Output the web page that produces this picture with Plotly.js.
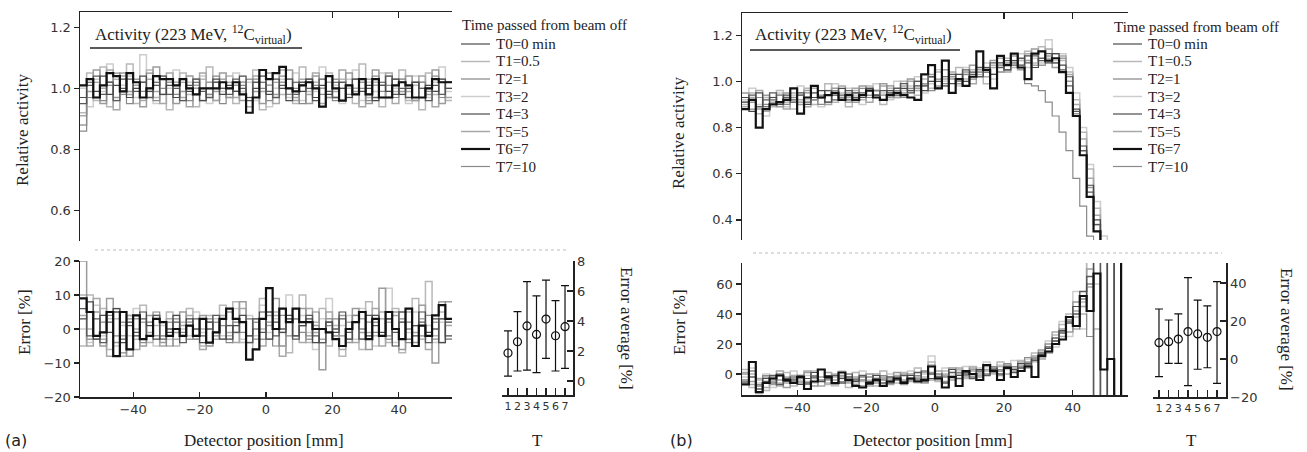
<!DOCTYPE html>
<html>
<head>
<meta charset="utf-8">
<script src="https://cdn.plot.ly/plotly-3.0.1.min.js"></script>
<style>html,body{margin:0;padding:0;background:#fff;}#chart{width:1307px;height:452px;}</style>
</head>
<body>
<div id="chart"></div>
<script>
// ---------------- DATA ----------------
const seriesNames = ["T0=0 min","T1=0.5","T2=1","T3=2","T4=3","T5=5","T6=7","T7=10"];
const tIndex = [1,2,3,4,5,6,7];
const tTickText = ["1","2","3","4","5","6","7"];
const xRange = [-56, 56];

// Panel (a) relative activity (2 mm bins from -56 to 56 mm)
const actA_T0 = [0.97,1.02,0.99,1.04,0.98,1.01,1.03,0.97, 1.00,1.04,0.99,1.02,0.98,1.01,0.97,1.03, 0.99,1.02,0.96,1.00,1.03,0.98,1.01,0.99, 1.04,0.97,1.00,1.02,0.98,1.03,1.00,0.96, 1.02,0.99,1.03,0.97,1.01,0.98,1.02,1.00, 0.97,1.03,0.99,1.01,0.96,1.02,0.99,1.03, 0.98,1.00,1.02,0.97,1.01,0.99,1.03,1.00];
const actA_T1 = [0.92,1.05,0.96,1.07,0.94,1.03,0.99,1.08, 0.95,1.02,1.06,0.97,1.04,0.93,1.01,1.05, 0.98,0.94,1.03,1.07,0.96,1.00,1.04,0.95, 1.02,0.97,1.06,0.93,1.01,1.05,0.98,1.03, 0.95,1.07,0.99,1.02,0.94,1.05,0.97,1.03, 1.00,0.95,1.08,0.97,1.02,0.94,1.04,0.99, 1.06,0.96,1.01,0.93,1.05,0.98,1.03,0.96];
const actA_T2 = [0.88,0.99,1.06,0.95,1.02,0.97,1.05,0.99, 1.03,0.94,1.00,1.07,0.98,1.02,0.95,0.99, 1.04,1.00,0.96,1.02,0.99,1.05,0.97,1.01, 0.96,1.03,0.99,0.95,1.05,0.98,1.02,1.06, 0.97,1.01,0.95,1.04,1.00,0.97,1.03,0.96, 1.05,0.99,1.02,0.95,1.06,1.01,0.97,1.03, 0.99,1.04,0.96,1.02,0.98,1.06,0.95,1.02];
const actA_T3 = [1.00,0.94,1.03,0.99,1.08,0.96,1.01,1.04, 0.97,1.11,0.99,0.95,1.03,1.00,1.06,0.96, 1.02,0.98,1.04,0.95,1.02,0.99,0.97,1.05, 0.99,1.02,0.96,1.04,0.94,1.00,1.03,0.97, 1.05,0.96,1.02,0.99,1.07,0.97,1.01,0.95, 1.03,1.06,0.96,1.02,0.99,1.05,0.97,1.00, 1.03,0.95,1.04,1.00,0.97,1.02,1.07,0.99];
const actA_T4 = [0.95,1.01,1.04,0.98,1.02,0.96,1.00,1.03, 0.99,1.02,0.97,1.01,1.04,0.98,1.00,0.96, 1.01,1.03,0.99,0.97,1.02,1.00,0.98,1.03, 1.00,0.96,1.02,1.04,0.99,0.97,1.01,1.03, 0.98,1.02,1.00,0.96,1.03,0.99,0.97,1.02, 1.01,0.98,1.03,1.00,0.97,1.01,1.04,0.98, 1.00,0.97,1.02,1.00,0.96,1.01,0.98,1.02];
const actA_T5 = [0.91,1.03,0.97,1.00,1.06,0.93,1.04,0.98, 1.01,0.96,1.03,0.99,0.95,1.05,1.02,0.97, 0.94,1.01,1.05,0.98,0.96,1.03,1.00,0.97, 1.02,0.94,1.04,0.99,1.01,0.95,1.06,1.00, 0.96,1.03,0.98,1.05,0.95,1.02,0.99,1.06, 0.97,1.00,0.94,1.03,1.01,0.97,1.05,0.95, 1.02,0.99,0.96,1.04,1.00,0.94,1.02,0.97];
const actA_T6 = [1.01,1.03,0.97,1.01,1.05,1.04,0.99,1.05, 1.02,0.97,1.00,1.04,1.03,1.03,1.01,1.03, 1.00,0.98,1.00,1.00,1.00,1.02,1.00,1.02, 0.98,0.92,0.97,1.06,1.03,1.05,1.07,1.00, 0.99,1.01,1.02,1.00,0.94,1.04,1.00,0.96, 1.01,0.98,1.03,0.98,1.03,0.97,0.97,1.01, 1.02,1.01,0.97,0.97,1.00,1.03,1.02,1.02];
const actA_T7 = [0.86,0.97,1.02,0.96,1.01,1.05,0.98,0.95, 1.02,0.99,1.05,0.96,1.00,1.03,0.98,1.02, 0.96,1.03,1.00,0.98,1.04,0.95,1.02,0.99, 1.01,0.97,1.03,1.00,0.96,1.02,1.04,0.98, 1.00,0.95,1.03,1.01,0.98,1.04,0.96,1.00, 0.98,1.03,1.00,0.96,1.04,0.99,1.01,0.97, 1.03,1.00,0.97,1.02,0.99,1.04,0.97,1.00];

// Panel (a) error [%]
const errA_T0 = [3,8,-3,4,-1,6,-4,2, -2,5,1,-3,2,-1,4,-2, 3,0,-4,2,-1,3,-3,1, 4,-2,0,5,-3,2,-1,4, -2,1,3,-4,0,2,-1,5, -3,2,0,-2,4,-1,3,-5, 2,0,-2,5,-1,3,-4,2];
const errA_T1 = [-5,10,-2,6,-6,3,-8,4, -3,7,-4,1,-2,5,-5,2, 6,-3,-5,4,-1,7,-2,8, -4,3,-6,9,-3,5,-1,-7, 3,10,-4,2,6,-5,1,-8, -3,4,-6,8,-2,3,-4,6, -7,2,9,-3,14,-2,5,-3];
const errA_T2 = [20,-3,5,-5,9,-4,2,-8, 3,-5,4,-2,-4,2,-1,5, -3,0,4,-5,2,-3,5,-1, 8,-4,2,-3,4,9,-5,3, -2,6,-3,1,-12,3,-2,4, -4,6,-1,-6,2,12,-3,5, -6,2,-4,7,-2,-10,3,8];
const errA_T3 = [0,-4,7,-2,3,-5,1,-2, 6,-3,2,-5,1,-3,4,0, -2,5,-1,-5,3,-2,1,6, -3,4,-2,7,-1,3,-5,10, -2,4,-1,-6,3,9,-2,1, 4,-3,6,-2,-5,3,12,-4, 2,-1,5,-3,1,-4,2,-2];
const errA_T4 = [6,-2,3,-4,2,5,-3,1, -1,3,-2,4,-3,0,2,-4, 1,3,-2,0,4,-3,1,-1, 2,-4,3,-1,5,-2,0,3, -3,1,4,-2,-4,2,0,3, -1,2,-3,4,1,-2,3,-1, 5,-3,1,2,-4,0,3,-2];
const errA_T5 = [4,-5,9,-3,-8,6,-2,4, -6,2,-1,4,-5,3,-3,1, 4,-2,-6,2,-3,4,-1,-4, 6,-2,3,-5,1,4,-8,2, 3,-4,6,-1,-3,5,-2,-6, 2,-4,3,-1,6,-5,2,4, -3,5,-1,3,-6,2,-4,1];
const errA_T6 = [9,5,-2,-1,5,-8,5,-6, 4,-3,-2,3,2,-2,0,-2, 1,-2,3,-4,-1,3,6,3, 2,-9,-6,3,12,0,6,2, 6,2,2,0,0,-1,-3,-5, 0,2,5,-3,3,-2,5,0, -3,6,-5,1,-2,4,7,3];
const errA_T7 = [10,0,-3,2,4,-2,-7,3, 0,-4,2,5,-2,-5,3,-1, 2,-3,0,3,-2,1,-4,2, -1,3,-3,0,2,-5,4,-2, 3,-1,-2,5,-4,1,3,-2, 0,4,-3,2,-1,5,-2,0, 3,-4,1,-2,4,-3,8,-3];

// Panel (a) error average [%]
const avgA = [1.87,2.62,3.67,3.11,4.13,3.02,3.62];
const upA  = [3.35,4.62,6.62,5.67,6.73,5.36,6.36];
const loA  = [0.33,0.67,0.73,0.56,1.51,0.67,0.84];

// Panel (b) relative activity
const actB_T0 = [0.93,0.87,0.95,0.89,0.93,0.90,0.94,0.91, 0.95,0.90,0.93,0.96,0.91,0.94,0.97,0.92, 0.95,0.93,0.97,0.94,0.92,0.96,0.94,0.97, 0.95,0.98,0.96,1.00,0.97,1.02,0.99,1.03, 1.00,1.04,1.02,1.06,1.03,1.08,1.05,1.09, 1.07,1.11,1.06,1.10,1.08,1.12,1.07,1.02, 0.88,0.72,0.55,0.40,0.27,0.15,0.08,0.04];
const actB_T1 = [0.90,0.95,0.86,0.93,0.89,0.96,0.91,0.88, 0.94,0.97,0.90,0.93,0.99,0.91,0.95,0.89, 0.96,0.92,0.98,0.94,0.90,0.97,0.93,1.00, 0.96,0.94,1.01,0.97,1.04,0.98,1.02,1.06, 1.01,1.05,1.03,0.99,1.07,1.04,1.10,1.06, 1.09,1.13,1.08,1.15,1.10,1.12,1.09,1.04, 0.92,0.78,0.62,0.45,0.30,0.18,0.09,0.05];
const actB_T2 = [0.95,0.91,0.88,0.94,0.92,0.89,0.95,0.93, 0.90,0.96,0.92,0.94,0.91,0.97,0.93,0.95, 0.91,0.98,0.94,0.96,0.99,0.93,0.97,0.95, 1.01,0.97,0.99,1.03,0.98,1.05,1.01,0.99, 1.04,1.07,1.02,1.06,1.09,1.04,1.08,1.11, 1.05,1.09,1.14,1.07,1.11,1.06,1.10,1.00, 0.86,0.70,0.54,0.38,0.25,0.14,0.07,0.03];
const actB_T3 = [0.92,0.97,0.90,0.85,0.93,0.95,0.89,0.94, 0.98,0.92,0.95,0.89,0.96,0.99,0.93,0.97, 0.94,0.90,0.96,0.99,0.95,0.92,1.00,0.96, 0.98,1.02,0.95,0.99,1.05,1.00,1.03,0.98, 1.06,1.02,1.04,1.08,1.01,1.07,1.05,1.09, 1.12,1.06,1.10,1.08,1.18,1.09,1.12,1.06, 0.95,0.80,0.64,0.48,0.33,0.20,0.10,0.05];
const actB_T4 = [0.91,0.94,0.89,0.92,0.95,0.90,0.93,0.92, 0.94,0.91,0.95,0.93,0.96,0.92,0.94,0.96, 0.93,0.95,0.97,0.94,0.96,0.95,0.97,0.99, 0.96,1.00,0.98,1.02,1.00,0.98,1.03,1.01, 1.05,1.03,1.06,1.04,1.08,1.06,1.09,1.07, 1.10,1.08,1.11,1.09,1.12,1.08,1.05,0.98, 0.87,0.70,0.52,0.38,0.26,0.15,0.08,0.04];
const actB_T5 = [0.89,0.93,0.96,0.87,0.91,0.94,0.88,0.95, 0.92,0.89,0.97,0.93,0.90,0.95,0.98,0.93, 0.97,0.94,0.91,0.96,0.98,0.95,0.93,0.98, 1.00,0.96,0.99,1.02,0.97,1.01,1.04,1.00, 1.03,0.99,1.05,1.02,1.06,1.10,1.04,1.08, 1.06,1.12,1.07,1.10,1.14,1.08,1.11,1.03, 0.90,0.75,0.58,0.42,0.29,0.17,0.09,0.04];
const actB_T6 = [0.88,0.92,0.80,0.88,0.90,0.91,0.92,0.97, 0.86,0.93,0.98,0.93,0.94,0.95,0.92,0.94, 0.92,0.94,0.96,0.93,0.92,0.94,0.95,0.94, 0.93,0.92,1.03,1.07,0.97,1.09,0.95,1.01, 0.98,1.02,1.13,1.05,0.97,1.11,1.07,1.12, 1.06,1.01,1.12,1.13,1.09,1.10,1.04,0.95, 0.85,0.68,0.50,0.35,0.22,0.12,0.07,0.04];
const actB_T7 = [0.91,0.88,0.93,0.90,0.92,0.94,0.90,0.93, 0.91,0.95,0.92,0.90,0.94,0.96,0.93,0.91, 0.95,0.97,0.93,0.96,0.94,0.98,0.96,0.93, 0.97,1.00,0.98,0.96,1.01,0.99,1.02,1.00, 1.03,1.01,1.04,1.06,1.03,1.07,1.05,1.08, 1.06,0.99,0.98,0.96,0.91,0.85,0.78,0.70, 0.58,0.46,0.33,0.20,0.12,0.07,0.04,0.02];

// Panel (b) error [%]
const errB_T0 = [-4,2,-8,-3,-6,0,-5,-2, -7,-3,1,-5,-1,-6,-3,0, -5,-2,-7,-1,-4,-6,-2,-5, -1,-4,2,-3,0,-2,3,-1, 1,-2,3,0,4,2,5,3, 7,6,10,13,17,24,29,36, 45,50,60,90,150,-100,200,-150];
const errB_T1 = [3,-9,-4,-11,-2,-6,1,-8, -3,-5,2,-4,-7,0,-3,-9, 1,-5,-2,-8,2,-3,-6,1, -4,4,-2,8,-5,2,-1,3, -3,5,1,6,0,8,4,2, 9,5,14,11,20,26,33,40, 38,48,85,-60,120,-80,150,-90];
const errB_T2 = [0,-5,-13,-2,-7,-4,-9,-3, -6,1,-8,-2,-4,-7,-1,-5, -3,-8,0,-6,-2,-4,1,-7, 0,-3,-6,1,-2,-5,4,0, -1,3,-2,5,1,-1,6,3, 5,8,11,16,14,22,30,28, 48,52,70,-50,-80,100,-60,180];
const errB_T3 = [-2,4,-6,0,-9,-1,-5,2, -4,-1,-6,3,-3,-8,2,-2, -6,2,-4,-1,-7,0,-3,-5, 2,-6,0,12,-1,4,-3,2, 5,-1,4,8,2,6,3,9, 4,10,8,15,22,18,35,25, 55,30,75,60,-40,90,-70,130];
const errB_T4 = [-6,-2,-10,-5,-1,-7,-3,-4, -1,-6,-2,-5,-3,-1,-6,-2, -4,-1,-5,-3,-6,-2,-4,-1, -3,1,-5,0,-2,-6,1,-3, 0,-3,2,-1,3,0,5,1, 4,7,9,14,18,22,28,34, 40,55,65,-30,200,-200,300,-300];
const errB_T5 = [1,-7,-3,-9,-5,2,-6,-1, -5,2,-3,-8,1,-4,-2,-6, -2,-4,-8,0,-3,-7,-1,-4, -5,-2,1,-4,2,-1,-4,4, -2,2,-1,3,1,5,0,4, 6,4,12,10,15,28,25,38, 42,45,58,75,-20,-60,150,-200];
const errB_T6 = [-7,8,-12,-6,-3,-1,-4,-6, -2,-10,-5,3,-2,-6,1,-4, -8,-9,-6,-4,-8,-5,-3,-6, -3,-5,-4,5,-3,-9,-2,-8, 2,0,-4,6,2,-4,4,-2, 2,5,-2,12,15,20,23,38, 32,52,42,67,3,10,-100,200];
const errB_T7 = [-5,0,-7,-1,-4,-8,-2,-5, -3,-7,-1,-4,-6,-2,-5,-3, -7,-4,-2,-5,-1,-6,-3,0, -4,-1,-3,6,-4,0,-2,1, -1,4,0,2,5,3,7,5, 8,11,9,13,20,24,27,35, 30,40,25,30,-30,-80,-150,-200];

// Panel (b) error average [%]
const avgB = [8.6,9.1,10.5,14.4,13.2,11.4,14.4];
const upB  = [26.3,20.5,23.7,42.8,31.0,27.9,40.7];
const loB  = [-9.3,-2.3,-2.3,-14.0,-5.4,-4.6,-12.8];

// ---------------- STYLE ----------------
const W = 1307, H = 452;
const px = x => x / W;
const py = y => 1 - y / H;
const lineColors = ["#4a4a4a","#b8b8b8","#9c9c9c","#cdcdcd","#5a5a5a","#a8a8a8","#111111","#8a8a8a"];
const lineWidths = [1.2,1.5,1.5,1.5,1.3,1.5,2.2,1.2];
const drawOrder = [3,1,5,2,7,4,0,6];
const serif = "Liberation Serif, Times New Roman, serif";
const sans = "DejaVu Sans, Verdana, sans-serif";

const actA = [actA_T0,actA_T1,actA_T2,actA_T3,actA_T4,actA_T5,actA_T6,actA_T7];
const errA = [errA_T0,errA_T1,errA_T2,errA_T3,errA_T4,errA_T5,errA_T6,errA_T7];
const actB = [actB_T0,actB_T1,actB_T2,actB_T3,actB_T4,actB_T5,actB_T6,actB_T7];
const errB = [errB_T0,errB_T1,errB_T2,errB_T3,errB_T4,errB_T5,errB_T6,errB_T7];

function stepTrace(vals, xa, ya, i) {
  const n = vals.length, xs = [], ys = [];
  for (let k = 0; k <= n; k++) {
    xs.push(xRange[0] + k * (xRange[1] - xRange[0]) / n);
    ys.push(vals[Math.min(k, n - 1)]);
  }
  return {type:'scatter', mode:'lines', x:xs, y:ys, xaxis:xa, yaxis:ya, name:seriesNames[i],
    line:{shape:'hv', color:lineColors[i], width:lineWidths[i]}, showlegend:false, hoverinfo:'skip'};
}
function avgTrace(avg, up, lo, xa, ya) {
  return {type:'scatter', mode:'markers', x:tIndex, y:avg, xaxis:xa, yaxis:ya, showlegend:false, hoverinfo:'skip',
    marker:{symbol:'circle-open', size:8, color:'#111', line:{width:1.2, color:'#111'}},
    error_y:{type:'data', symmetric:false, array:up.map((u,k)=>u-avg[k]), arrayminus:lo.map((l,k)=>avg[k]-l),
      color:'#111', thickness:1.2, width:4}};
}

const traces = [];
drawOrder.forEach(i => traces.push(stepTrace(actA[i], 'x', 'y', i)));
drawOrder.forEach(i => traces.push(stepTrace(errA[i], 'x2', 'y2', i)));
traces.push(avgTrace(avgA, upA, loA, 'x3', 'y3'));
drawOrder.forEach(i => traces.push(stepTrace(actB[i], 'x4', 'y4', i)));
drawOrder.forEach(i => traces.push(stepTrace(errB[i], 'x5', 'y5', i)));
traces.push(avgTrace(avgB, upB, loB, 'x6', 'y6'));

const axBase = {showgrid:false, zeroline:false, showline:true, linecolor:'#222', linewidth:1.5,
  tickcolor:'#222', tickwidth:1.2, tickfont:{family:sans, size:13, color:'#333'}, fixedrange:true};
function ax(o) { return Object.assign({}, axBase, o); }

const layout = {
  width: W, height: H, margin:{l:0,r:0,t:0,b:0}, paper_bgcolor:'#fff', plot_bgcolor:'#fff', showlegend:false,
  // (a) top
  xaxis: ax({domain:[px(80),px(452)], range:xRange, anchor:'y', side:'top', ticks:'inside', ticklen:6,
    tickvals:[20,40], showticklabels:false}),
  yaxis: ax({domain:[py(241),py(12)], range:[0.5,1.25], anchor:'x', ticks:'outside', ticklen:5,
    tickvals:[0.6,0.8,1.0,1.2], ticktext:['0.6','0.8','1.0','1.2']}),
  // (a) bottom
  xaxis2: ax({domain:[px(80),px(452)], range:xRange, anchor:'y2', ticks:'inside', ticklen:5, tickvals:[-40,-20,0,20,40]}),
  yaxis2: ax({domain:[py(397),py(261)], range:[-20,20], anchor:'x2', ticks:'outside', ticklen:5, tickvals:[-20,-10,0,10,20]}),
  // (a) error average
  xaxis3: ax({domain:[px(502),px(573)], range:[0.37,7.84], anchor:'y3', ticks:'inside', ticklen:7, tickangle:0,
    tickvals:tIndex, ticktext:tTickText, tickfont:{family:sans, size:11, color:'#333'}}),
  yaxis3: ax({domain:[py(395),py(261)], range:[-0.93,8], anchor:'x3', side:'right', ticks:'inside', ticklen:6,
    tickvals:[0,2,4,6,8]}),
  // (b) top
  xaxis4: ax({domain:[px(742),px(1128)], range:xRange, anchor:'y4', side:'top', ticks:'inside', ticklen:6,
    tickvals:[20,40], showticklabels:false}),
  yaxis4: ax({domain:[py(240),py(13)], range:[0.313,1.296], anchor:'x4', ticks:'outside', ticklen:5,
    tickvals:[0.4,0.6,0.8,1.0,1.2], ticktext:['0.4','0.6','0.8','1.0','1.2']}),
  // (b) bottom
  xaxis5: ax({domain:[px(742),px(1128)], range:xRange, anchor:'y5', ticks:'inside', ticklen:5, tickvals:[-40,-20,0,20,40]}),
  yaxis5: ax({domain:[py(395),py(263)], range:[-14,74], anchor:'x5', ticks:'outside', ticklen:5, tickvals:[0,20,40,60]}),
  // (b) error average
  xaxis6: ax({domain:[px(1153),px(1226)], range:[0.38,7.93], anchor:'y6', ticks:'inside', ticklen:7, tickangle:0,
    tickvals:tIndex, ticktext:tTickText, tickfont:{family:sans, size:11, color:'#333'}}),
  yaxis6: ax({domain:[py(397),py(263)], range:[-20,50.5], anchor:'x6', side:'right', ticks:'inside', ticklen:6,
    tickvals:[-20,0,20,40]}),
  shapes: [],
  annotations: []
};

function ann(text, x, y, o) {
  layout.annotations.push(Object.assign({text:text, x:px(x), y:py(y), xref:'paper', yref:'paper', showarrow:false,
    xanchor:'center', yanchor:'middle', font:{family:serif, size:17, color:'#222'}}, o || {}));
}
function hline(x0, x1, y, o) {
  layout.shapes.push(Object.assign({type:'line', xref:'paper', yref:'paper', x0:px(x0), x1:px(x1), y0:py(y), y1:py(y),
    line:{color:'#222', width:1.3}}, o || {}));
}

const actTitle = "Activity (223 MeV, <sup>12</sup>C<sub>virtual</sub>)";
// titles (a)
ann(actTitle, 93, 34, {xanchor:'left', font:{family:serif, size:17, color:'#222'}});
hline(90, 302, 48);
ann("Relative activity", 22, 130, {textangle:-90});
ann("Error [%]", 24, 322, {textangle:-90});
ann("Detector position [mm]", 264, 440);
ann("(a)", 16, 440, {font:{family:sans, size:16, color:'#222'}});
ann("T", 537, 440);
ann("Error average [%]", 627, 328, {textangle:90});
// titles (b)
ann(actTitle, 753, 34, {xanchor:'left', font:{family:serif, size:17, color:'#222'}});
hline(750, 960, 50);
ann("Relative activity", 678, 133, {textangle:-90});
ann("Error [%]", 679, 322, {textangle:-90});
ann("Detector position [mm]", 933, 440);
ann("(b)", 681, 440, {font:{family:sans, size:16, color:'#222'}});
ann("T", 1191, 440);
ann("Error average [%]", 1287, 329, {textangle:90});

// dotted separators
hline(95, 567, 250, {line:{color:'#bbb', width:1, dash:'dot'}});
hline(753, 1222, 253, {line:{color:'#bbb', width:1, dash:'dot'}});

// custom legends
function legend(x0, titleY) {
  ann("Time passed from beam off", x0, titleY, {xanchor:'left', font:{family:serif, size:15, color:'#222'}});
  seriesNames.forEach((nm, i) => {
    const y = 44 + i * 17.5;
    hline(x0 + 1, x0 + 30, y, {line:{color:lineColors[i], width:lineWidths[i]}});
    ann(nm, x0 + 34, y, {xanchor:'left', font:{family:serif, size:15, color:'#222'}});
  });
}
legend(460, 25);
legend(1112, 27);

Plotly.newPlot('chart', traces, layout, {staticPlot:true, displayModeBar:false});
</script>
</body>
</html>
